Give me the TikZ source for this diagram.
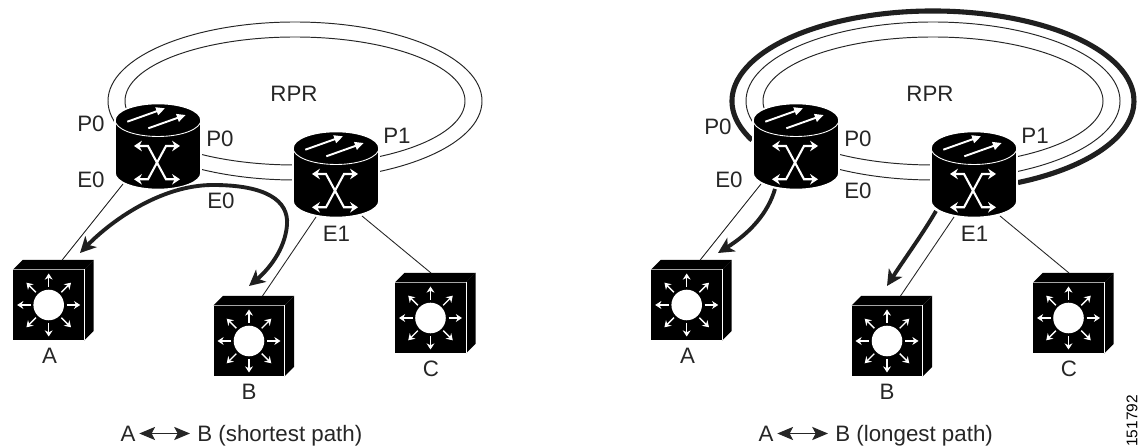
\documentclass[tikz,border=0pt]{standalone}
\usepackage{fontspec}
\setmainfont{Liberation Sans}
\usetikzlibrary{arrows.meta}
\tikzset{
  lbl/.style={inner sep=0pt, text height=9.1pt, text depth=0pt, font=\fontsize{12.7}{15}\selectfont, text=black!85},
  link/.style={draw=black!85, line width=0.5pt},
  ringline/.style={draw=black!85, line width=0.55pt},
  hot/.style={draw=black!88, line width=2.2pt, -{Stealth[length=9pt,width=9pt,inset=2.5pt]}},
  router/.pic={
    \path[draw=white, line width=0.9pt, fill=black] (-43,26.5) arc[start angle=180, end angle=0, x radius=43, y radius=16.5]
      -- (43,-26.5) arc[start angle=0, end angle=-180, x radius=43, y radius=16.5] -- cycle;
    \draw[white, line width=0.5pt] (-43,26.5) arc[start angle=180, end angle=360, x radius=43, y radius=16.5];
    \draw[white, line width=1.1pt, -{Triangle[length=5pt,width=4.5pt]}] (-30.7,24.8) -- (7,38.2);
    \draw[white, line width=1.1pt, -{Triangle[length=5pt,width=4.5pt]}] (-9.7,18.2) -- (27.7,31.5);
    \draw[white, line width=1.2pt, {Stealth[length=4.5pt,width=6pt]}-{Stealth[length=4.5pt,width=6pt]}] (-24,0.5) -- (-10,0.5) -- (8,-32.8) -- (22,-32.8);
    \draw[white, line width=1.2pt, {Stealth[length=4.5pt,width=6pt]}-{Stealth[length=4.5pt,width=6pt]}] (22,0.5) -- (8,0.5) -- (-10,-32.8) -- (-24,-32.8);
    \coordinate (-sw) at (-35,-37.5);
    \coordinate (-se) at (26,-41.5);
    \coordinate (-ss) at (-20,-42.5);
  },
  switch/.pic={
    \fill[black] (-35.5,35.5) -- (-26,45) -- (45,45) -- (35.5,35.5) -- cycle;
    \fill[black] (35.5,35.5) -- (45,45) -- (45,-26) -- (35.5,-35.5) -- cycle;
    \node[fill=black, draw=none, minimum size=40.2pt, inner sep=0pt] (-front) at (0,0) {};
    \draw[black!35, line width=0.6pt] (-35.5,35.5) -- (35.5,35.5);
    \draw[white, line width=0.5pt] (35.5,35.5) -- (35.5,-35.5);
    \node[circle, fill=white, minimum size=17.4pt, inner sep=0pt] (-hub) at (0,0) {};
    \foreach \a in {0,45,...,315}
      \draw[white, line width=0.8pt, -{Stealth[length=3.5pt,width=4.5pt]}] (\a:18) -- (\a:31.5);
    \coordinate (-tr) at (13.5,45);
    \coordinate (-tc) at (0.5,45);
  }
}
\begin{document}
\begin{tikzpicture}[x=0.02cm, y=0.02cm]
  \useasboundingbox (0,0) rectangle (1142,448);

  % longest path goes round the outside
  \draw[draw=black!88, line width=2.9pt] (933,347) ++(205.8:201 and 90) arc[start angle=205.8, end angle=-65, x radius=201, y radius=90];

  \foreach \dx/\p in {0/l, 638/r} {
    % Ring
    \draw[ringline] (295+\dx,347) ellipse[x radius=187, y radius=79];
    \draw[ringline] (295+\dx,347) ellipse[x radius=170, y radius=64];

    % Devices
    \pic (ra\p) at (158+\dx,301.5) {router};
    \pic (rb\p) at (336+\dx,273.5) {router};
    \pic (sa\p) at (48.7+\dx,143) {switch};
    \pic (sb\p) at (249+\dx,107) {switch};
    \pic (sc\p) at (430.5+\dx,130) {switch};

    % Links
    \draw[link] (ra\p-sw) -- (sa\p-tr);
    \draw[link] (rb\p-ss) -- (sb\p-tr);
    \draw[link] (rb\p-se) -- (sc\p-tc);

    % Labels
    \node[lbl] (rpr\p) at (294+\dx-\dx/319,354) {RPR};
    \node[lbl] (pb\p) at (397+\dx,312) {P1};
    \node[lbl] (ea\p) at (336.5+\dx,214) {E1};
    \node[lbl] (pr\p) at (221+\dx-1,309) {P0};
    \node[lbl] (la\p) at (49.5+\dx,92) {A};
    \node[lbl] (lb\p) at (249+\dx,56) {B};
    \node[lbl] (lc\p) at (431+\dx,79.5) {C};
  }

  % Left side labels
  \node[lbl] (pl) at (91,324) {P0};
  \node[lbl] (el) at (91,268) {E0};
  \node[lbl] (em) at (221,247) {E0};
  \node[lbl] (pk) at (718,321) {P0};
  \node[lbl] (ek) at (729,268) {E0};
  \node[lbl] (en) at (858,257) {E0};

  % Paths
  \coordinate (tipa) at (80,195);
  \coordinate (tipb) at (249,162);
  \draw[hot, {Stealth[length=9pt,width=9pt,inset=2.5pt]}-{Stealth[length=9pt,width=9pt,inset=2.5pt]}] (tipa) .. controls (110,226) and (160,263) .. (213,263) .. controls (265,263) and (289,248) .. (287,223) .. controls (285,198) and (268,178) .. (tipb);
  \coordinate (starta) at (775,259);
  \coordinate (tipc) at (718,195);
  \coordinate (startb) at (936,237);
  \coordinate (tipd) at (887,162);
  \draw[hot] (starta) .. controls (768,235) and (750,215) .. (tipc);
  \draw[hot] (startb) .. controls (922,213) and (905,190) .. (tipd);

  % Captions
  \node[lbl] (capa) at (128,14.5) {A};
  \node[lbl, anchor=west] (capb) at (197,14.5) {B (shortest path)};
  \draw[link, line width=0.7pt, shorten <=2pt, shorten >=4pt, {Stealth[length=9pt,width=7.5pt,inset=2pt]}-{Stealth[length=9pt,width=7.5pt,inset=2pt]}] (capa) -- (capb.west);
  \node[lbl] (capc) at (766,14.5) {A};
  \node[lbl, anchor=west] (capd) at (835,14.5) {B (longest path)};
  \draw[link, line width=0.7pt, shorten <=2pt, shorten >=4pt, {Stealth[length=9pt,width=7.5pt,inset=2pt]}-{Stealth[length=9pt,width=7.5pt,inset=2pt]}] (capc) -- (capd.west);
  \node[rotate=90, inner sep=0pt, font=\fontsize{8.8}{10}\selectfont] (figid) at (1132,27) {151792};
\end{tikzpicture}
\end{document}
